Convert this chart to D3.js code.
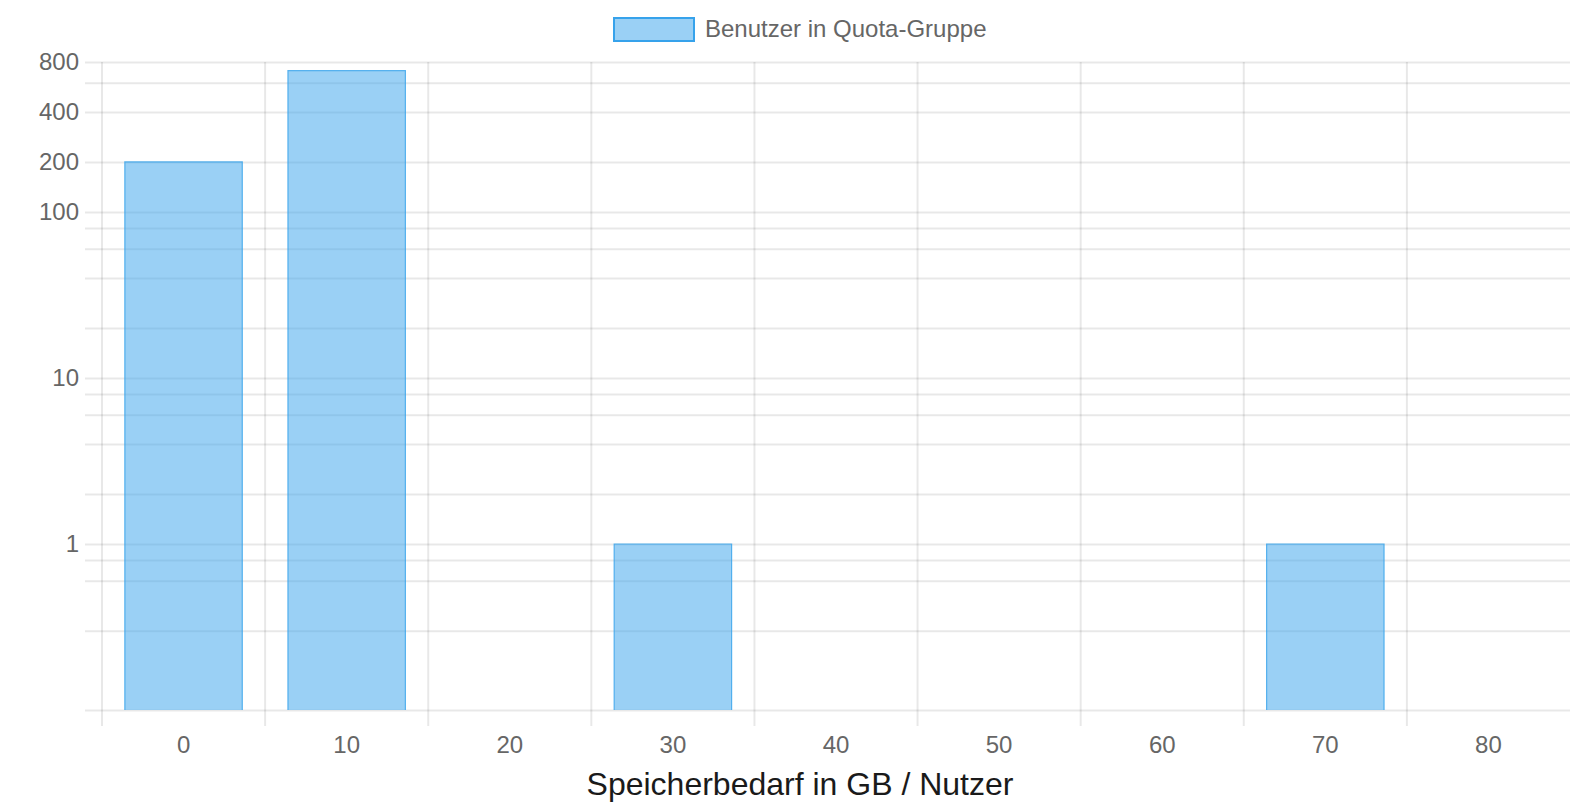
<!DOCTYPE html>
<html>
<head>
<meta charset="utf-8">
<script src="https://cdn.jsdelivr.net/npm/d3@7"></script>
<style>
  body { margin: 0; background: #fff; }
  svg { display: block; font-family: "Liberation Sans", Arial, sans-serif; }
</style>
</head>
<body>
<svg id="chart"></svg>
<script>
var svg_width = 1583
var svg_height = 803

// data
var categories = [0, 10, 20, 30, 40, 50, 60, 70, 80];
var userCounts = [200, 710, 0, 1, 0, 0, 0, 1, 0];
var gridValues = [0.3, 0.6, 0.8, 1, 2, 4, 6, 8, 10, 20, 40, 60, 80, 100, 200, 400, 600, 800];
var tickLabels = [1, 10, 100, 200, 400, 800];
var legendLabel = "Benutzer in Quota-Gruppe";
var xTitle = "Speicherbedarf in GB / Nutzer";

var plot = { left: 102, right: 1570, top: 62, bottom: 710 };
var gridColor = "rgba(0,0,0,0.09)";

var svg = d3.select("#chart")
    .attr("width", svg_width)
    .attr("height", svg_height);

//SCALES
var xScale = d3.scaleBand()
               .domain(categories)
               .range([plot.left, plot.right])
               .padding(0);

var yScale = d3.scaleLog()
               .domain([0.1, 800])
               .range([plot.bottom, plot.top]);

// vertical grid lines on the category boundaries
svg.append("g")
    .selectAll("line")
    .data(categories)
    .enter()
    .append("line")
      .attr("x1", function(d) { return xScale(d); })
      .attr("x2", function(d) { return xScale(d); })
      .attr("y1", plot.top)
      .attr("y2", plot.bottom + 16)
      .attr("stroke", gridColor)
      .attr("stroke-width", 2);

// y axis with grid
var yAxis = d3.axisLeft(yScale)
              .tickValues(gridValues.concat([0.1]))
              .tickSize(0)
              .tickFormat(function(d) {
                  return tickLabels.indexOf(d) >= 0 ? d : "";
              });

var yG = svg.append("g")
    .attr("transform", "translate(" + plot.left + ", 0)")
    .call(yAxis);
yG.select(".domain").remove();
yG.selectAll(".tick line")
    .attr("x1", -17)
    .attr("x2", plot.right - plot.left)
    .attr("stroke", gridColor)
    .attr("stroke-width", 2);
yG.selectAll(".tick text")
    .attr("x", -23)
    .attr("dy", "0.3em")
    .attr("fill", "#666")
    .attr("font-size", 24)
    .attr("font-family", "Liberation Sans, Arial, sans-serif");

// x axis labels
var xAxis = d3.axisBottom(xScale).tickSize(0).tickPadding(0);
var xG = svg.append("g")
    .attr("transform", "translate(0, " + plot.bottom + ")")
    .call(xAxis);
xG.select(".domain").remove();
xG.selectAll(".tick text")
    .attr("y", 43)
    .attr("dy", 0)
    .attr("fill", "#666")
    .attr("font-size", 24)
    .attr("font-family", "Liberation Sans, Arial, sans-serif");

// bars
var bw = xScale.bandwidth();
var bars = svg.append("g")
    .selectAll("g")
    .data(categories.map(function(c, i) { return { cat: c, value: userCounts[i] }; })
                    .filter(function(d) { return d.value > 0; }))
    .enter()
    .append("g");

bars.append("rect")
      .attr("x", function(d) { return xScale(d.cat) + bw * 0.14; })
      .attr("y", function(d) { return yScale(d.value); })
      .attr("width", bw * 0.72)
      .attr("height", function(d) { return plot.bottom - yScale(d.value); })
      .attr("fill", "rgba(54,162,235,0.5)");

bars.append("path")
      .attr("d", function(d) {
          var x0 = xScale(d.cat) + bw * 0.14, x1 = x0 + bw * 0.72, y0 = yScale(d.value);
          return "M" + x0 + "," + plot.bottom + "V" + y0 + "H" + x1 + "V" + plot.bottom;
      })
      .attr("fill", "none")
      .attr("stroke", "rgb(54,162,235)")
      .attr("stroke-opacity", 0.8)
      .attr("stroke-width", 1.2);

// legend
var legend = svg.append("g");
legend.append("rect")
      .attr("x", 614)
      .attr("y", 18)
      .attr("width", 80)
      .attr("height", 23)
      .attr("fill", "rgba(54,162,235,0.5)")
      .attr("stroke", "rgb(54,162,235)")
      .attr("stroke-width", 2);
legend.append("text")
      .attr("x", 705)
      .attr("y", 29)
      .attr("dy", "0.35em")
      .attr("fill", "#666")
      .attr("font-size", 24)
      .text(legendLabel);

// x axis title
svg.append("text")
      .attr("x", 800)
      .attr("y", 795)
      .attr("text-anchor", "middle")
      .attr("fill", "#1a1a1a")
      .attr("font-size", 32)
      .text(xTitle);
</script>
</body>
</html>
